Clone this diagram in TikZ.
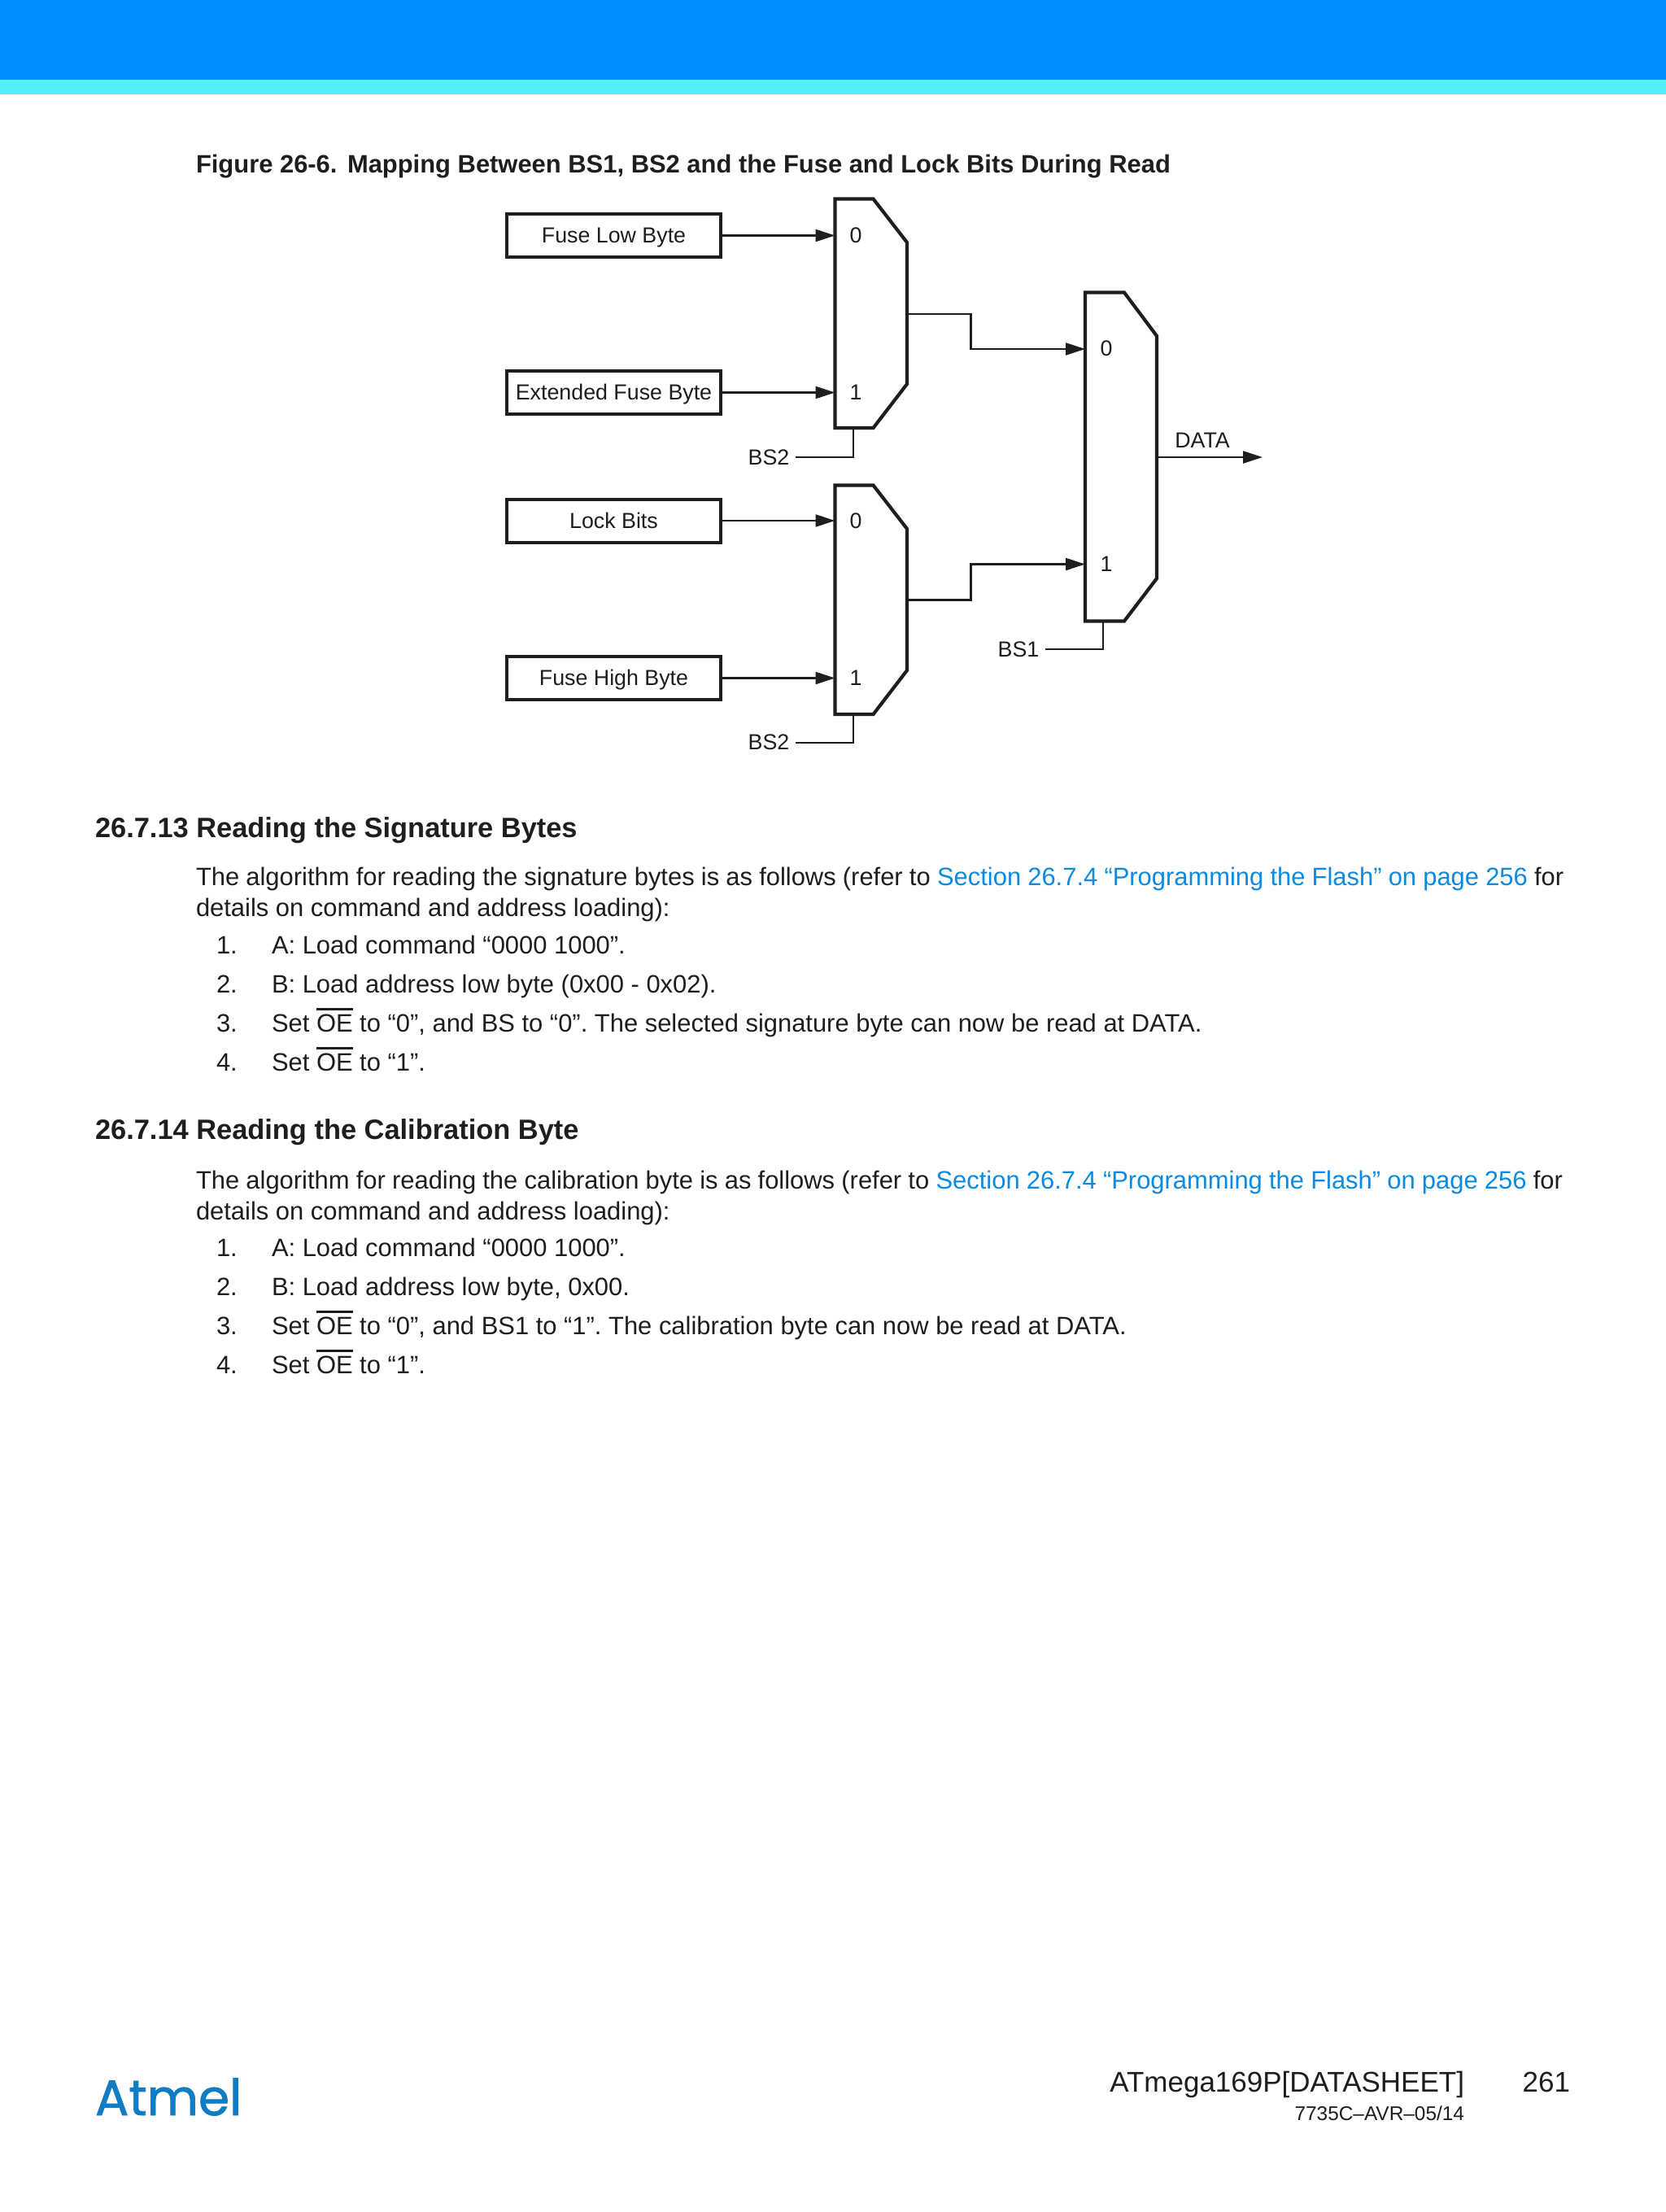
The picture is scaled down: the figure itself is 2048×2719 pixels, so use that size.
\documentclass[tikz,border=0pt]{standalone}
\usepackage{fontspec}
\setmainfont{Liberation Sans}
\newfontfamily\logofont[FakeBold=1.3]{Poppins}
\usetikzlibrary{arrows.meta}
\definecolor{hdrblue}{HTML}{008FFF}
\definecolor{hdrcyan}{HTML}{55EEFF}
\definecolor{ink}{HTML}{1E1E1E}
\definecolor{linkc}{HTML}{0A8AE0}
\definecolor{logoc}{HTML}{0F7CC4}
\newcommand{\bodyfs}{\frenchspacing\fontsize{15.46}{20}\selectfont}
\newcommand{\labfs}{\fontsize{13.4}{16}\selectfont}
\newcommand{\headfs}{\frenchspacing\fontsize{17.2}{22}\selectfont\bfseries}
\newcommand{\oebar}{\vbox{\hrule height 1.3pt\kern 2.4pt\hbox{OE}}}
\newcommand{\lnk}[1]{\textcolor{linkc}{#1}}
\tikzset{
  x=0.5pt,y=-0.5pt,
  every node/.style={inner sep=0pt,outer sep=0pt,text=ink},
  fusebox/.style={draw=ink,line width=2pt,fill=white,minimum width=131.8pt,minimum height=26.5pt,font=\labfs,text height=9.4pt,text depth=0pt},
  muxshape/.style={draw=ink,line width=2.1pt,fill=white,line join=miter},
  wire/.style={draw=ink,line width=1.1pt},
  arrowwire/.style={wire,-{Triangle[length=12pt,width=7.5pt]}},
  lab/.style={font=\labfs,anchor=base},
  txt/.style={font=\bodyfs,anchor=base west},
  head/.style={font=\headfs,anchor=base west},
}
\begin{document}
\begin{tikzpicture}
\useasboundingbox (0,0) rectangle (2048,2719);
\fill[white] (0,0) rectangle (2048,2719);
\fill[hdrblue] (0,0) rectangle (2048,98);
\fill[hdrcyan] (0,98) rectangle (2048,116);

\node[txt,font=\bodyfs\bfseries] (cap1) at (241,212.5) {Figure 26-6.};
\node[txt,font=\bodyfs\bfseries] (cap2) at (427,212.5) {Mapping Between BS1, BS2 and the Fuse and Lock Bits During Read};

% boxes
\node[fusebox] (b1) at (754.5,289.5) {Fuse Low Byte};
\node[fusebox] (b2) at (754.5,482.5) {Extended Fuse Byte};
\node[fusebox] (b3) at (754.5,640) {Lock Bits};
\node[fusebox] (b4) at (754.5,833.5) {Fuse High Byte};

% muxes
\draw[muxshape] (1026.5,244.5) -- (1073.5,244.5) -- (1115,298) -- (1115,472) -- (1073.5,526) -- (1026.5,526) -- cycle;
\draw[muxshape] (1026.5,596.5) -- (1073.5,596.5) -- (1115,650) -- (1115,824) -- (1073.5,878) -- (1026.5,878) -- cycle;
\draw[muxshape] (1334,359.5) -- (1382,359.5) -- (1422,413) -- (1422,711) -- (1382,763.5) -- (1334,763.5) -- cycle;

\coordinate (m1a) at (1026.5,289.5);
\coordinate (m1b) at (1026.5,482.5);
\coordinate (m2a) at (1026.5,640);
\coordinate (m2b) at (1026.5,833.5);
\coordinate (m1o) at (1115,386);
\coordinate (m2o) at (1115,737.5);
\coordinate (m3a) at (1334,429);
\coordinate (m3b) at (1334,693.5);
\coordinate (m3o) at (1422,562);
\coordinate (m1s) at (1049,526);
\coordinate (m2s) at (1049,878);
\coordinate (m3s) at (1356,763.5);
\coordinate (dataend) at (1552,562);

\node[lab] (d10) at (1052,298) {0};
\node[lab] (d11) at (1052,491) {1};
\node[lab] (d20) at (1052,649.5) {0};
\node[lab] (d21) at (1052,842) {1};
\node[lab] (d30) at (1360,437) {0};
\node[lab] (d31) at (1360,702) {1};
\node[lab] (bs2a) at (945,571) {BS2};
\node[lab] (bs2b) at (945,921) {BS2};
\node[lab] (bs1) at (1252,807) {BS1};
\node[lab] (data) at (1478,550) {DATA};

\draw[arrowwire] (b1.east) -- (m1a);
\draw[arrowwire] (b2.east) -- (m1b);
\draw[arrowwire] (b3.east) -- (m2a);
\draw[arrowwire] (b4.east) -- (m2b);
\draw[arrowwire] (m1o) -- (1193.5,386) -- (1193.5,429) -- (m3a);
\draw[arrowwire] (m2o) -- (1193.5,737.5) -- (1193.5,693.5) -- (m3b);
\draw[arrowwire] (m3o) -- (dataend);
\draw[wire] (978,562) -- (1049,562) -- (m1s);
\draw[wire] (978,913) -- (1049,913) -- (m2s);
\draw[wire] (1285,798) -- (1356,798) -- (m3s);

% text
\node[head] (h1) at (117,1029) {26.7.13 Reading the Signature Bytes};
\node[txt] (t1) at (241,1088) {\spaceskip=4.09pt The algorithm for reading the signature bytes is as follows (refer to \lnk{Section 26.7.4 “Programming the Flash” on page 256} for};
\node[txt] (t2) at (241,1126) {details on command and address loading):};
\node[txt] (n1) at (266,1172) {1.};
\node[txt] (l1) at (334,1172) {A: Load command “0000 1000”.};
\node[txt] (n2) at (266,1220) {2.};
\node[txt] (l2) at (334,1220) {B: Load address low byte (0x00 - 0x02).};
\node[txt] (n3) at (266,1268) {3.};
\node[txt] (l3) at (334,1268) {Set \oebar{} to “0”, and BS to “0”. The selected signature byte can now be read at DATA.};
\node[txt] (n4) at (266,1316) {4.};
\node[txt] (l4) at (334,1316) {Set \oebar{} to “1”.};

\node[head] (h2) at (117,1400) {26.7.14 Reading the Calibration Byte};
\node[txt] (t3) at (241,1461) {\spaceskip=4.1pt The algorithm for reading the calibration byte is as follows (refer to \lnk{Section 26.7.4 “Programming the Flash” on page 256} for};
\node[txt] (t4) at (241,1499) {details on command and address loading):};
\node[txt] (n5) at (266,1544) {1.};
\node[txt] (l5) at (334,1544) {A: Load command “0000 1000”.};
\node[txt] (n6) at (266,1592) {2.};
\node[txt] (l6) at (334,1592) {B: Load address low byte, 0x00.};
\node[txt] (n7) at (266,1640) {3.};
\node[txt] (l7) at (334,1640) {Set \oebar{} to “0”, and BS1 to “1”. The calibration byte can now be read at DATA.};
\node[txt] (n8) at (266,1688) {4.};
\node[txt] (l8) at (334,1688) {Set \oebar{} to “1”.};

% footer
\node[font=\fontsize{17.5}{22}\selectfont,anchor=base east] (f1) at (1800,2571) {ATmega169P[DATASHEET]};
\node[font=\fontsize{17.5}{22}\selectfont,anchor=base east] (f2) at (1930,2571) {261};
\node[font=\fontsize{12.2}{14}\selectfont,anchor=base east] (f3) at (1800,2606) {7735C–AVR–05/14};
\node[font=\logofont\fontsize{30.7}{36}\selectfont,anchor=base west,text=logoc] (logo) at (117,2600) {Atmel};
\end{tikzpicture}
\end{document}
